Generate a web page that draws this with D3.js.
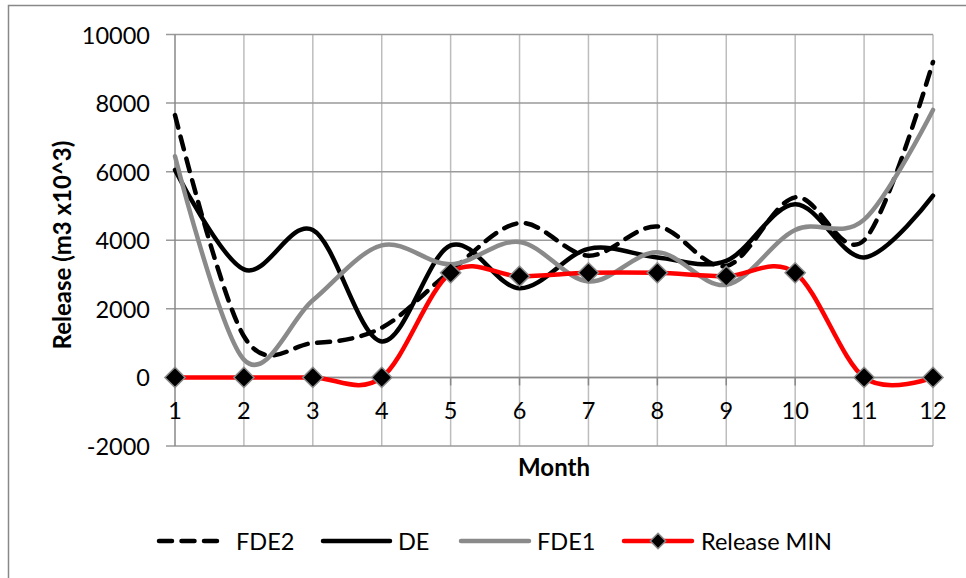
<!DOCTYPE html>
<html>
<head>
<meta charset="utf-8">
<script src="https://cdn.jsdelivr.net/npm/d3@7"></script>
<style>
  html, body { margin: 0; padding: 0; background: #fff; }
  svg { display: block; font-family: Lato, "Open Sans", sans-serif; }
</style>
</head>
<body>
<svg id="chart" width="966" height="578"></svg>
<script>
// Monthly release series (m3 x10^3)
const months = [1, 2, 3, 4, 5, 6, 7, 8, 9, 10, 11, 12];
const fde2 = [7650, 1200, 1000, 1450, 3100, 4500, 3550, 4400, 3250, 5250, 4000, 9200];
const de = [6050, 3150, 4300, 1050, 3850, 2600, 3750, 3500, 3400, 5050, 3500, 5300];
const fde1 = [6450, 520, 2250, 3850, 3300, 3950, 2800, 3650, 2700, 4300, 4600, 7800];
const releaseMin = [0, 0, 0, 0, 3050, 2950, 3050, 3050, 2950, 3050, 0, 0];
const yTicks = [-2000, 0, 2000, 4000, 6000, 8000, 10000];
const seriesNames = ["FDE2", "DE", "FDE1", "Release MIN"];

const svg = d3.select("#chart");
const plot = { left: 175, right: 933, top: 34.5, bottom: 446 };

const x = d3.scaleLinear().domain([1, 12]).range([plot.left, plot.right]);
const y = d3.scaleLinear().domain([-2000, 10000]).range([plot.bottom, plot.top]);

// outer chart frame
svg.append("rect")
  .attr("x", 8.5).attr("y", 5.5).attr("width", 990).attr("height", 600)
  .attr("fill", "none").attr("stroke", "#888").attr("stroke-width", 1.5);

// vertical gridlines
svg.append("g").selectAll("line").data(months.slice(1)).join("line")
  .attr("x1", d => x(d)).attr("x2", d => x(d))
  .attr("y1", plot.top).attr("y2", plot.bottom)
  .attr("stroke", "#bdbdbd").attr("stroke-width", 1.5);

// horizontal gridlines (extend out as tick marks on the left)
svg.append("g").selectAll("line").data(yTicks).join("line")
  .attr("x1", plot.left - 9).attr("x2", plot.right)
  .attr("y1", d => y(d)).attr("y2", d => y(d))
  .attr("stroke", "#9a9a9a").attr("stroke-width", 1.5);

// y axis line
svg.append("line")
  .attr("x1", plot.left).attr("x2", plot.left)
  .attr("y1", plot.top).attr("y2", plot.bottom)
  .attr("stroke", "#888").attr("stroke-width", 1.5);

// x axis line at zero with downward ticks
svg.append("line")
  .attr("x1", plot.left).attr("x2", plot.right)
  .attr("y1", y(0)).attr("y2", y(0))
  .attr("stroke", "#888").attr("stroke-width", 1.5);
svg.append("g").selectAll("line").data(months).join("line")
  .attr("x1", d => x(d)).attr("x2", d => x(d))
  .attr("y1", y(0)).attr("y2", y(0) + 8)
  .attr("stroke", "#888").attr("stroke-width", 1.5);

// y tick labels
svg.append("g").selectAll("text").data(yTicks).join("text")
  .attr("x", plot.left - 25).attr("y", d => y(d))
  .attr("text-anchor", "end").attr("dominant-baseline", "central")
  .attr("font-size", 23.5).attr("fill", "#000")
  .text(d => d);

// x tick labels, below the zero line
svg.append("g").selectAll("text").data(months).join("text")
  .attr("x", d => x(d)).attr("y", y(0) + 42)
  .attr("text-anchor", "middle")
  .attr("font-size", 23.5).attr("fill", "#000")
  .text(d => d);

// axis titles
svg.append("text")
  .attr("x", 554).attr("y", 476)
  .attr("text-anchor", "middle").attr("font-weight", "bold")
  .attr("font-size", 24).text("Month");
svg.append("text")
  .attr("transform", "translate(71,245) rotate(-90)")
  .attr("text-anchor", "middle").attr("font-weight", "bold")
  .attr("font-size", 24).text("Release (m3 x10^3)");

// series lines
const line = d3.line()
  .x((d, i) => x(months[i]))
  .y(d => y(d))
  .curve(d3.curveCatmullRom.alpha(0));

const styles = [
  { data: fde2, color: "#000", dash: "13,9.5" },
  { data: de, color: "#000", dash: null },
  { data: fde1, color: "#8a8a8a", dash: null },
  { data: releaseMin, color: "#ff0000", dash: null }
];

const lines = svg.append("g");
styles.forEach(s => {
  lines.append("path")
    .attr("d", line(s.data))
    .attr("fill", "none")
    .attr("stroke", s.color)
    .attr("stroke-width", 4.5)
    .attr("stroke-linecap", "round")
    .attr("stroke-linejoin", "round")
    .attr("stroke-dasharray", s.dash);
});

// diamond markers for Release MIN
const diamond = d3.symbol().type(d3.symbolDiamond2).size(260);
svg.append("g").selectAll("path").data(releaseMin).join("path")
  .attr("transform", (d, i) => `translate(${x(months[i])},${y(d)})`)
  .attr("d", diamond)
  .attr("fill", "#000").attr("stroke", "#8a8a8a").attr("stroke-width", 1.5);

// legend
const legendY = 541;
const legendItems = [
  { x1: 159, x2: 219, tx: 236, style: styles[0] },
  { x1: 323, x2: 390, tx: 398, style: styles[1] },
  { x1: 461, x2: 529, tx: 537, style: styles[2] },
  { x1: 624, x2: 692, tx: 701, style: styles[3], marker: true }
];
const legend = svg.append("g");
legendItems.forEach((item, i) => {
  legend.append("line")
    .attr("x1", item.x1).attr("x2", item.x2)
    .attr("y1", legendY).attr("y2", legendY)
    .attr("stroke", item.style.color).attr("stroke-width", 4.5)
    .attr("stroke-linecap", "round")
    .attr("stroke-dasharray", item.style.dash);
  if (item.marker) {
    legend.append("path")
      .attr("transform", `translate(${(item.x1 + item.x2) / 2},${legendY})`)
      .attr("d", d3.symbol().type(d3.symbolDiamond2).size(150))
      .attr("fill", "#000").attr("stroke", "#8a8a8a").attr("stroke-width", 1.5);
  }
  legend.append("text")
    .attr("x", item.tx).attr("y", legendY)
    .attr("dominant-baseline", "central")
    .attr("font-size", 23.5).attr("fill", "#000")
    .text(seriesNames[i]);
});
</script>
</body>
</html>
